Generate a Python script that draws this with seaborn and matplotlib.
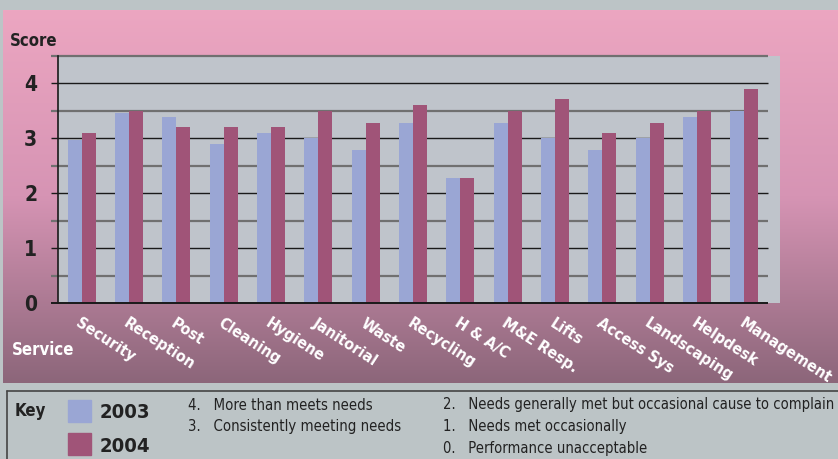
import numpy as np
import pandas as pd
import matplotlib
matplotlib.use("Agg")
import matplotlib.pyplot as plt
import seaborn as sns
from matplotlib.patches import Rectangle

services = ["Security", "Reception", "Post", "Cleaning", "Hygiene", "Janitorial", "Waste",
            "Recycling", "H & A/C", "M&E Resp.", "Lifts", "Access Sys", "Landscaping",
            "Helpdesk", "Management"]
score_2003 = [2.97, 3.46, 3.39, 2.9, 3.1, 3.0, 2.78, 3.28, 2.28, 3.28, 3.0, 2.78, 3.0, 3.39, 3.5]
score_2004 = [3.1, 3.5, 3.2, 3.2, 3.2, 3.5, 3.28, 3.61, 2.28, 3.5, 3.71, 3.1, 3.28, 3.5, 3.9]
years = ["2003", "2004"]
key_left = ["4.   More than meets needs", "3.   Consistently meeting needs"]
key_right = ["2.   Needs generally met but occasional cause to complain",
             "1.   Needs met occasionally", "0.   Performance unacceptable"]

C03 = "#9aa6d4"
C04 = "#a05478"

df = pd.DataFrame({"Service": services * 2,
                   "Score": score_2003 + score_2004,
                   "Year": [years[0]] * len(services) + [years[1]] * len(services)})

sns.set_theme(style="white")
plt.rcParams["font.family"] = ["DejaVu Sans"]
plt.rcParams["font.stretch"] = "condensed"

W, H = 838, 459
fig = plt.figure(figsize=(W / 100, H / 100), dpi=100)
fig.patch.set_facecolor("#bcc4c6")

# gradient panel
bg = fig.add_axes([3 / W, 1 - 383 / H, (W - 3) / W, (383 - 10) / H])
top = np.array([236, 166, 193]) / 255
mid = np.array([214, 148, 180]) / 255
bot = np.array([140, 102, 122]) / 255
t = np.linspace(0, 1, 256)[:, None]
grad = np.where(t < 0.5, top[None, :] * (1 - 2 * t) + mid[None, :] * (2 * t),
                mid[None, :] * (2 - 2 * t) + bot[None, :] * (2 * t - 1))
bg.imshow(grad[:, None, :], aspect="auto", extent=[0, 1, 0, 1])
bg.set_axis_off()

ax = fig.add_axes([58 / W, 1 - 303 / H, (780 - 58) / W, (303 - 56) / H])
ax.set_facecolor("#bfc4cb")
n = len(services)

for y in np.arange(0.5, 4.51, 0.5):
    major = abs(y - round(y)) < 1e-6
    ax.hlines(y, -0.5 - 7 / 47.3, n - 0.5, colors="#1a1a1a" if major else "#707070",
              lw=1.0 if major else 1.6, clip_on=False, zorder=0.5)

sns.barplot(data=df, x="Service", y="Score", hue="Year", palette=[C03, C04],
            width=0.59, saturation=1, ax=ax, legend=False, zorder=2, gap=0,
            linewidth=0, edgecolor="none")
ax.set_xlim(-0.5, n - 0.5 + 12 / 47.3)
ax.set_ylim(0, 4.5)

for s in ["top", "right"]:
    ax.spines[s].set_visible(False)
ax.spines["left"].set_color("#1a1a1a")
ax.spines["left"].set_linewidth(1.2)
ax.spines["bottom"].set_visible(False)
ax.hlines(0, -0.5 - 7 / 47.3, n - 0.5, colors="#1a1a1a", lw=1.4, clip_on=False, zorder=3)

ax.set_yticks([0, 1, 2, 3, 4])
ax.set_yticklabels(["0", "1", "2", "3", "4"], fontsize=15, fontweight="bold", color="#222222")
ax.tick_params(axis="y", length=0, pad=15)
ax.set_xticks(range(n))
ax.set_xticklabels(services, rotation=-33, ha="left", va="top", rotation_mode="anchor",
                   fontsize=11.5, fontweight="bold", color="white")
ax.tick_params(axis="x", length=5, color="white", width=1.2, direction="out", pad=4)
ax.set_xlabel("")
ax.set_ylabel("")

fig.text(10 / W, 1 - 41 / H, "Score", fontsize=12, fontweight="bold", color="#222222", va="center")
fig.text(12 / W, 1 - 350 / H, "Service", fontsize=12, fontweight="bold", color="white", va="center")

# key box
fig.add_artist(plt.Line2D([7 / W, 1], [1 - 391 / H] * 2, color="#444444", lw=1.2))
fig.add_artist(plt.Line2D([7 / W, 7 / W], [0, 1 - 391 / H], color="#444444", lw=1.2))
fig.text(15 / W, 1 - 411 / H, "Key", fontsize=12, fontweight="bold", color="#222222", va="center")
for i, (yr, c) in enumerate(zip(years, [C03, C04])):
    yc = 411 + i * 33
    fig.add_artist(Rectangle((68 / W, 1 - (yc + 11) / H), 23 / W, 22 / H, color=c,
                             transform=fig.transFigure))
    fig.text(100 / W, 1 - (yc + 2) / H, yr, fontsize=14.5, fontweight="bold", color="#222222", va="center")
for i, s in enumerate(key_left):
    fig.text(188 / W, 1 - (405 + 22 * i) / H, s, fontsize=10.7, color="#222222", va="center")
for i, s in enumerate(key_right):
    fig.text(443 / W, 1 - (405 + 22 * i) / H, s, fontsize=10.6, color="#222222", va="center")

fig.savefig("out.png", dpi=100, facecolor=fig.get_facecolor())
